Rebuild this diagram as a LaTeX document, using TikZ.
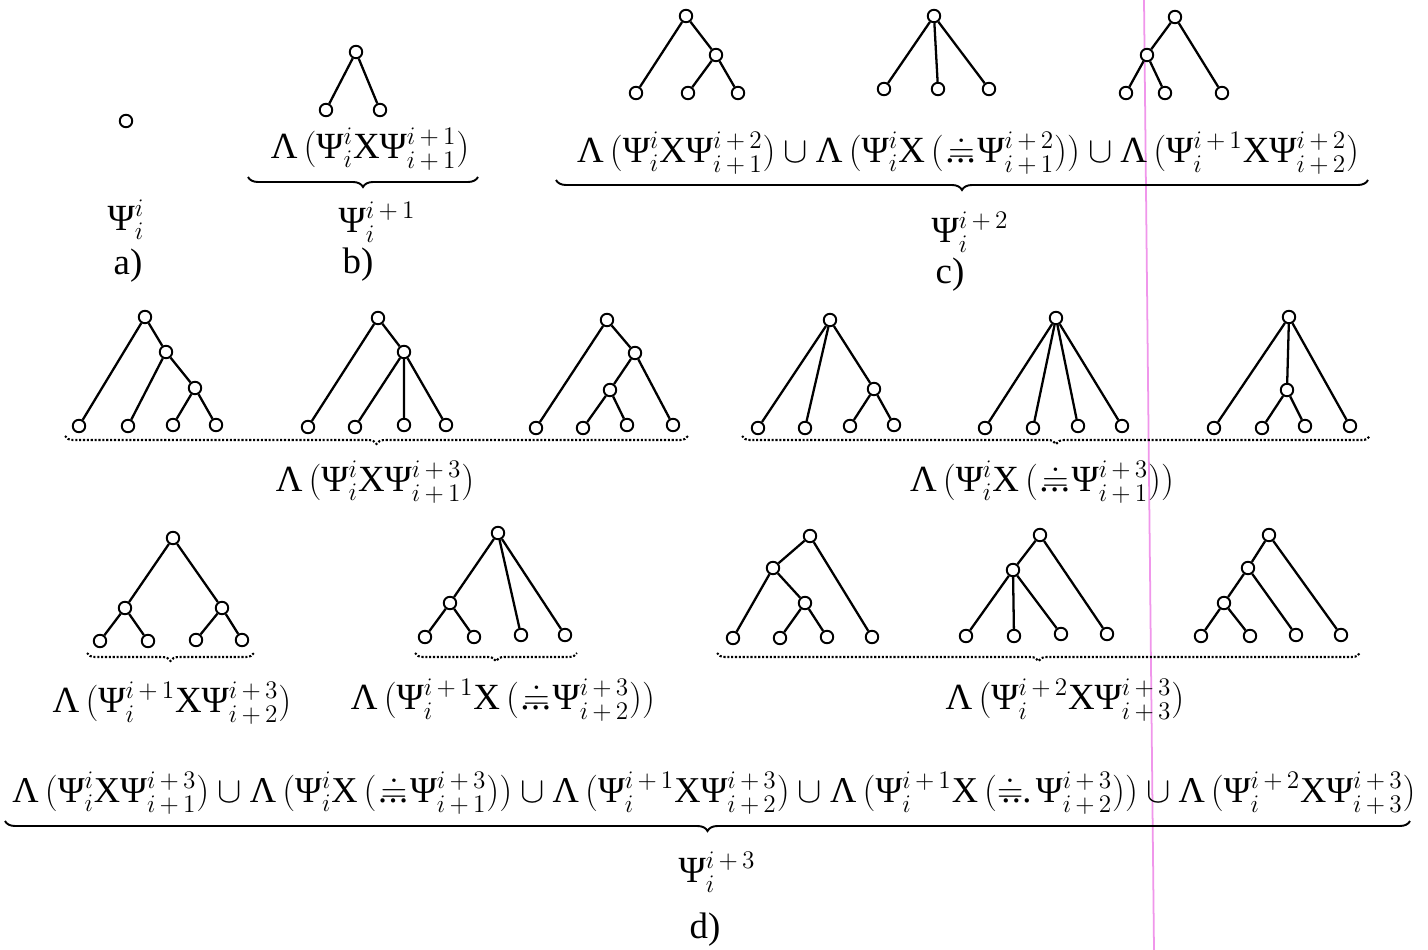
\documentclass[tikz,border=0pt]{standalone}
\usepackage{fontspec}
\setmainfont{Liberation Serif}
\usepackage{amsmath}
\usetikzlibrary{decorations.pathreplacing}
\newcommand\Ps{\mbox{Ψ}}
\newcommand\Lm{\mbox{Λ}}
\newcommand\Xx{\mbox{X}}
\newcommand\dtL{\mathord{\mbox{\kern0.12em\makebox[0pt][l]{\kern-0.08em.\kern0.04em.\kern0.04em.}$\doteq$\kern0.08em}}}
\newcommand\dtR{\mathord{\mbox{\makebox[0pt][l]{\kern0.12em.\kern0.04em.\kern0.04em.}$\doteq$\kern0.35em}}}
\newcommand\pl{\,+\,}
\tikzset{
  vtx/.style={circle,draw,fill=white,inner sep=0pt,minimum size=0.25cm,line width=1.1pt},
  edge/.style={line width=1.3pt},
  lbl/.style={font=\fontsize{21}{24}\selectfont,inner sep=0pt},
  lblsm/.style={font=\fontsize{20.7}{24}\selectfont,inner sep=0pt},
  sbrace/.style={decorate,decoration={brace,mirror,amplitude=0.2cm},line width=1.1pt},
  dbrace/.style={decorate,decoration={brace,mirror,amplitude=0.16cm},line width=1.2pt,densely dotted},
}
\begin{document}
\begin{tikzpicture}[x=0.02cm,y=-0.02cm]
\useasboundingbox (0,0) rectangle (1428,950);
\fill[white] (0,0) rectangle (1428,950);
% scan artifact line
\draw[line width=1pt,color={rgb,255:red,240;green,150;blue,235}] (1144,0) -- (1154,950);

% ---------- a) ----------
\node[vtx] (a0) at (126,121) {};
\node[lbl] (aPsi) at (126,220) {$\Ps^{i}_{i}$};
\node[lbl] (aLab) at (128,266) {a)};

% ---------- b) ----------
\node[vtx] (b0) at (356,52) {};
\node[vtx] (b1) at (326,110) {};
\node[vtx] (b2) at (380,110) {};
\draw[edge] (b0)--(b1) (b0)--(b2);
\node[lbl] (bF) at (370,149) {$\Lm\,(\Ps^{i}_{i}\Xx\Ps^{i\pl1}_{i\pl1})$};
\coordinate (bL) at (248,177); \coordinate (bR) at (478,177);
\draw[sbrace] (bL) -- (bR);
\node[lbl] (bPsi) at (377,222) {$\Ps^{i\pl1}_{i}$};
\node[lbl] (bLab) at (358,265) {b)};

% ---------- c) ----------
\node[vtx] (c1r) at (686,16) {};
\node[vtx] (c1m) at (716,55) {};
\node[vtx] (c1a) at (636,93) {};
\node[vtx] (c1b) at (688,93) {};
\node[vtx] (c1c) at (738,93) {};
\draw[edge] (c1r)--(c1a) (c1r)--(c1m) (c1m)--(c1b) (c1m)--(c1c);
\node[vtx] (c2r) at (934,16) {};
\node[vtx] (c2a) at (884,89) {};
\node[vtx] (c2b) at (938,89) {};
\node[vtx] (c2c) at (989,89) {};
\draw[edge] (c2r)--(c2a) (c2r)--(c2b) (c2r)--(c2c);
\node[vtx] (c3r) at (1175,17) {};
\node[vtx] (c3m) at (1147,55) {};
\node[vtx] (c3a) at (1126,93) {};
\node[vtx] (c3b) at (1165,93) {};
\node[vtx] (c3c) at (1222,93) {};
\draw[edge] (c3r)--(c3m) (c3r)--(c3c) (c3m)--(c3a) (c3m)--(c3b);
\node[lbl] (cF) at (968,153) {$\Lm\,(\Ps^{i}_{i}\Xx\Ps^{i\pl2}_{i\pl1})\cup\Lm\,(\Ps^{i}_{i}\Xx\,(\dtL\Ps^{i\pl2}_{i\pl1}))\cup\Lm\,(\Ps^{i\pl1}_{i}\Xx\Ps^{i\pl2}_{i\pl2})$};
\coordinate (cL) at (556,180); \coordinate (cR) at (1368,180);
\draw[sbrace] (cL) -- (cR);
\node[lbl] (cPsi) at (970,232) {$\Ps^{i\pl2}_{i}$};
\node[lbl] (cLab) at (950,275) {c)};

% ---------- row 2 left ----------
\node[vtx] (A1r) at (145,317) {};
\node[vtx] (A1m) at (166,352) {};
\node[vtx] (A1n) at (195,388) {};
\node[vtx] (A1a) at (79,426) {};
\node[vtx] (A1b) at (128,426) {};
\node[vtx] (A1c) at (173,425) {};
\node[vtx] (A1d) at (216,425) {};
\draw[edge] (A1r)--(A1a) (A1r)--(A1m) (A1m)--(A1b) (A1m)--(A1n) (A1n)--(A1c) (A1n)--(A1d);
\node[vtx] (A2r) at (378,318) {};
\node[vtx] (A2m) at (404,352) {};
\node[vtx] (A2a) at (308,427) {};
\node[vtx] (A2b) at (355,427) {};
\node[vtx] (A2c) at (404,425) {};
\node[vtx] (A2d) at (446,425) {};
\draw[edge] (A2r)--(A2a) (A2r)--(A2m) (A2m)--(A2b) (A2m)--(A2c) (A2m)--(A2d);
\node[vtx] (A3r) at (607,320) {};
\node[vtx] (A3m) at (635,353) {};
\node[vtx] (A3n) at (610,390) {};
\node[vtx] (A3a) at (536,428) {};
\node[vtx] (A3b) at (583,428) {};
\node[vtx] (A3c) at (627,425) {};
\node[vtx] (A3d) at (673,425) {};
\draw[edge] (A3r)--(A3a) (A3r)--(A3m) (A3m)--(A3n) (A3m)--(A3d) (A3n)--(A3b) (A3n)--(A3c);
\coordinate (AL) at (65,436); \coordinate (AR) at (688,436);
\draw[dbrace] (AL) -- (AR);
\node[lbl] (AF) at (375,482) {$\Lm\,(\Ps^{i}_{i}\Xx\Ps^{i\pl3}_{i\pl1})$};

% ---------- row 2 right ----------
\node[vtx] (B1r) at (830,320) {};
\node[vtx] (B1m) at (874,389) {};
\node[vtx] (B1a) at (758,428) {};
\node[vtx] (B1b) at (805,428) {};
\node[vtx] (B1c) at (850,426) {};
\node[vtx] (B1d) at (894,425) {};
\draw[edge] (B1r)--(B1a) (B1r)--(B1b) (B1r)--(B1m) (B1m)--(B1c) (B1m)--(B1d);
\node[vtx] (B2r) at (1056,318) {};
\node[vtx] (B2a) at (985,428) {};
\node[vtx] (B2b) at (1033,428) {};
\node[vtx] (B2c) at (1078,426) {};
\node[vtx] (B2d) at (1122,426) {};
\draw[edge] (B2r)--(B2a) (B2r)--(B2b) (B2r)--(B2c) (B2r)--(B2d);
\node[vtx] (B3r) at (1289,317) {};
\node[vtx] (B3m) at (1287,390) {};
\node[vtx] (B3a) at (1214,428) {};
\node[vtx] (B3b) at (1262,428) {};
\node[vtx] (B3c) at (1305,426) {};
\node[vtx] (B3d) at (1350,426) {};
\draw[edge] (B3r)--(B3a) (B3r)--(B3m) (B3r)--(B3d) (B3m)--(B3b) (B3m)--(B3c);
\coordinate (BL) at (742,436); \coordinate (BR) at (1370,436);
\draw[dbrace] (BL) -- (BR);
\node[lbl] (BF) at (1042,482) {$\Lm\,(\Ps^{i}_{i}\Xx\,(\dtL\Ps^{i\pl3}_{i\pl1}))$};

% ---------- row 3 ----------
\node[vtx] (C1r) at (173,538) {};
\node[vtx] (C1m) at (125,608) {};
\node[vtx] (C1n) at (222,608) {};
\node[vtx] (C1a) at (100,641) {};
\node[vtx] (C1b) at (148,641) {};
\node[vtx] (C1c) at (196,640) {};
\node[vtx] (C1d) at (242,640) {};
\draw[edge] (C1r)--(C1m) (C1r)--(C1n) (C1m)--(C1a) (C1m)--(C1b) (C1n)--(C1c) (C1n)--(C1d);
\coordinate (C1L) at (87,653); \coordinate (C1R) at (254,653);
\draw[dbrace] (C1L) -- (C1R);
\node[lbl] (C1F) at (172,703) {$\Lm\,(\Ps^{i\pl1}_{i}\Xx\Ps^{i\pl3}_{i\pl2})$};

\node[vtx] (C2r) at (498,533) {};
\node[vtx] (C2m) at (450,603) {};
\node[vtx] (C2a) at (425,637) {};
\node[vtx] (C2b) at (474,637) {};
\node[vtx] (C2c) at (521,635) {};
\node[vtx] (C2d) at (565,635) {};
\draw[edge] (C2r)--(C2m) (C2r)--(C2c) (C2r)--(C2d) (C2m)--(C2a) (C2m)--(C2b);
\coordinate (C2L) at (415,653); \coordinate (C2R) at (577,653);
\draw[dbrace] (C2L) -- (C2R);
\node[lbl] (C2F) at (503,700) {$\Lm\,(\Ps^{i\pl1}_{i}\Xx\,(\dtL\Ps^{i\pl3}_{i\pl2}))$};

\node[vtx] (D1r) at (810,536) {};
\node[vtx] (D1m) at (773,568) {};
\node[vtx] (D1n) at (805,603) {};
\node[vtx] (D1a) at (733,638) {};
\node[vtx] (D1b) at (780,638) {};
\node[vtx] (D1c) at (827,637) {};
\node[vtx] (D1d) at (872,637) {};
\draw[edge] (D1r)--(D1m) (D1r)--(D1d) (D1m)--(D1a) (D1m)--(D1n) (D1n)--(D1b) (D1n)--(D1c);
\node[vtx] (D2r) at (1040,535) {};
\node[vtx] (D2m) at (1013,570) {};
\node[vtx] (D2a) at (966,636) {};
\node[vtx] (D2b) at (1014,636) {};
\node[vtx] (D2c) at (1061,634) {};
\node[vtx] (D2d) at (1107,634) {};
\draw[edge] (D2r)--(D2m) (D2r)--(D2d) (D2m)--(D2a) (D2m)--(D2b) (D2m)--(D2c);
\node[vtx] (D3r) at (1269,535) {};
\node[vtx] (D3m) at (1248,568) {};
\node[vtx] (D3n) at (1224,603) {};
\node[vtx] (D3a) at (1201,636) {};
\node[vtx] (D3b) at (1250,636) {};
\node[vtx] (D3c) at (1296,635) {};
\node[vtx] (D3d) at (1341,635) {};
\draw[edge] (D3r)--(D3m) (D3r)--(D3d) (D3m)--(D3n) (D3m)--(D3c) (D3n)--(D3a) (D3n)--(D3b);
\coordinate (DL) at (717,653); \coordinate (DR) at (1360,653);
\draw[dbrace] (DL) -- (DR);
\node[lbl] (DF) at (1065,700) {$\Lm\,(\Ps^{i\pl2}_{i}\Xx\Ps^{i\pl3}_{i\pl3})$};

% ---------- row 4 ----------
\node[lblsm] (EF) at (714,793) {$\Lm\,(\Ps^{i}_{i}\Xx\Ps^{i\pl3}_{i\pl1})\cup\Lm\,(\Ps^{i}_{i}\Xx\,(\dtL\Ps^{i\pl3}_{i\pl1}))\cup\Lm\,(\Ps^{i\pl1}_{i}\Xx\Ps^{i\pl3}_{i\pl2})\cup\Lm\,(\Ps^{i\pl1}_{i}\Xx\,(\dtR\Ps^{i\pl3}_{i\pl2}))\cup\Lm\,(\Ps^{i\pl2}_{i}\Xx\Ps^{i\pl3}_{i\pl3})$};
\coordinate (EL) at (5,821); \coordinate (ER) at (1410,821);
\draw[sbrace] (EL) -- (ER);
\node[lbl] (EPsi) at (717,872) {$\Ps^{i\pl3}_{i}$};
\node[lbl] (ELab) at (705,930) {d)};
\end{tikzpicture}
\end{document}
